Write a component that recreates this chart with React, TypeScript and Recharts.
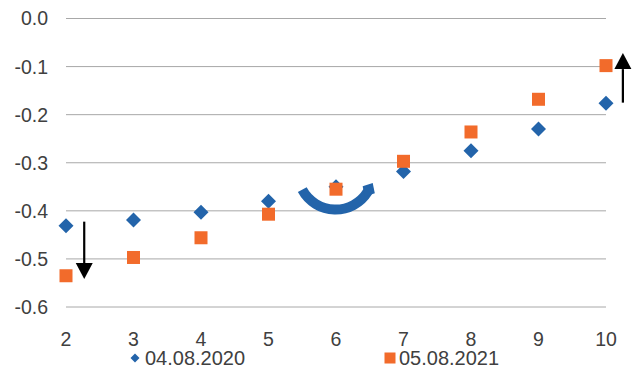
import { ScatterChart, Scatter, XAxis, YAxis, CartesianGrid, Legend, ReferenceLine } from "recharts";

const xValues = [2, 3, 4, 5, 6, 7, 8, 9, 10];
const values2020 = [-0.431, -0.419, -0.403, -0.38, -0.35, -0.318, -0.275, -0.23, -0.176];
const values2021 = [-0.535, -0.497, -0.456, -0.407, -0.355, -0.297, -0.236, -0.168, -0.098];
const xTicks = [2, 3, 4, 5, 6, 7, 8, 9, 10];
const yTicks = [0, -0.1, -0.2, -0.3, -0.4, -0.5, -0.6];
const seriesNames = ["04.08.2020", "05.08.2021"];

const BLUE = "#2364aa";
const ORANGE = "#f26b2b";
const FONT = "'Liberation Sans', Arial, sans-serif";

const data2020 = xValues.map((x, i) => ({ x, y: values2020[i] }));
const data2021 = xValues.map((x, i) => ({ x, y: values2021[i] }));

const Diamond = (props: any) => {
  const { cx, cy } = props;
  const r = 7.5;
  return <polygon points={`${cx},${cy - r} ${cx + r},${cy} ${cx},${cy + r} ${cx - r},${cy}`} fill={BLUE} />;
};

const Square = (props: any) => {
  const { cx, cy } = props;
  return <rect x={cx - 6.5} y={cy - 6.5} width={13} height={13} fill={ORANGE} />;
};

// straight arrow with a triangular head at (x2, y2)
const Arrow = (props: any) => {
  const { x1, y1, x2, y2 } = props;
  const dir = y2 > y1 ? 1 : -1;
  const headLen = 16;
  const headHalf = 8.5;
  return (
    <g>
      <line x1={x1} y1={y1} x2={x2} y2={y2 - dir * headLen} stroke="#000" strokeWidth={2.2} />
      <polygon
        points={`${x2},${y2} ${x2 - headHalf},${y2 - dir * headLen} ${x2 + headHalf},${y2 - dir * headLen}`}
        fill="#000"
      />
    </g>
  );
};

// curved arrow bending below the chord, diamond head at the right end
const CurvedArrow = (props: any) => {
  const { x1, y1, x2, y2 } = props;
  const d = Math.hypot(x2 - x1, y2 - y1);
  const R = d / Math.sqrt(3);
  const tx = 0.5, ty = -0.866;
  const hl = 8, hw = 7;
  const cx = x2 + tx * 2, cy = y2 + ty * 2;
  const px = -ty, py = tx;
  const pts = [
    [cx + tx * hl, cy + ty * hl],
    [cx + px * hw, cy + py * hw],
    [cx - tx * hl, cy - ty * hl],
    [cx - px * hw, cy - py * hw],
  ]
    .map((p) => p.join(","))
    .join(" ");
  return (
    <g>
      <path d={`M ${x1} ${y1} A ${R} ${R} 0 0 0 ${x2} ${y2}`} fill="none" stroke={BLUE} strokeWidth={10} />
      <polygon points={pts} fill={BLUE} />
    </g>
  );
};

const LegendContent = () => (
  <div style={{ position: "relative", height: 24, fontFamily: FONT, fontSize: 20, color: "#404040", lineHeight: "24px" }}>
    <div style={{ position: "absolute", left: 129, top: 1, display: "flex", alignItems: "center" }}>
      <svg width={12} height={12} style={{ marginRight: 4 }}>
        <polygon points="6,1.5 10.5,6 6,10.5 1.5,6" fill={BLUE} />
      </svg>
      <span>{seriesNames[0]}</span>
    </div>
    <div style={{ position: "absolute", left: 384, top: 1, display: "flex", alignItems: "center" }}>
      <svg width={12} height={12} style={{ marginRight: 3 }}>
        <rect x={0.5} y={0.5} width={11} height={11} fill={ORANGE} />
      </svg>
      <span>{seriesNames[1]}</span>
    </div>
  </div>
);

export default function App() {
  return (
    <div style={{ position: "absolute", left: 0, top: 0, width: 641, height: 369, background: "#fff" }}>
      <ScatterChart width={641} height={369} margin={{ top: 18.5, right: 35, left: 0, bottom: 0 }}>
        <CartesianGrid vertical={false} stroke="#a8a8a8" />
        <XAxis
          dataKey="x"
          type="number"
          domain={[2, 10]}
          ticks={xTicks}
          axisLine={false}
          tickLine={false}
          tickSize={0}
          tickMargin={25}
          height={38}
          tick={{ fontSize: 19.5, fill: "#404040", fontFamily: FONT }}
        />
        <XAxis
          xAxisId="top"
          orientation="top"
          type="number"
          domain={[2, 10]}
          ticks={xTicks}
          tick={false}
          mirror
          tickSize={5}
          height={0}
          stroke="#888"
        />
        <YAxis
          dataKey="y"
          type="number"
          domain={[-0.6, 0]}
          ticks={yTicks}
          axisLine={false}
          tickLine={false}
          tickSize={0}
          tickMargin={18}
          width={66}
          tickFormatter={(v: number) => v.toFixed(1)}
          tick={{ fontSize: 19.5, fill: "#404040", fontFamily: FONT }}
        />
        <Legend verticalAlign="bottom" height={24} content={<LegendContent />} wrapperStyle={{ left: 0, width: 641 }} />
        <Scatter name={seriesNames[0]} data={data2020} shape={<Diamond />} isAnimationActive={false} />
        <Scatter name={seriesNames[1]} data={data2021} shape={<Square />} isAnimationActive={false} />
        <ReferenceLine segment={[{ x: 2.27, y: -0.4225 }, { x: 2.27, y: -0.542 }]} shape={<Arrow />} ifOverflow="visible" />
        <ReferenceLine segment={[{ x: 10.25, y: -0.175 }, { x: 10.25, y: -0.072 }]} shape={<Arrow />} ifOverflow="visible" />
        <ReferenceLine segment={[{ x: 5.5, y: -0.356 }, { x: 6.47, y: -0.36 }]} shape={<CurvedArrow />} ifOverflow="visible" />
      </ScatterChart>
    </div>
  );
}
